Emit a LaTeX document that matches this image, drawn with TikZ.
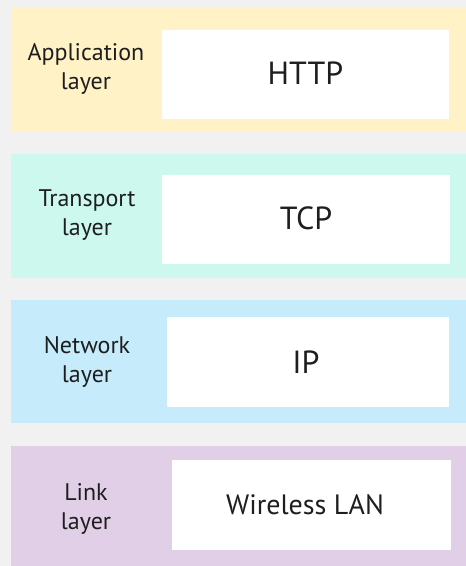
\documentclass[tikz,border=0pt]{standalone}
\usepackage{fontspec}
\setmainfont{PT Sans}
\definecolor{bg}{HTML}{F1F1F1}
\definecolor{appc}{HTML}{FFF2C6}
\definecolor{trac}{HTML}{CCF8EE}
\definecolor{netc}{HTML}{C6ECFB}
\definecolor{linkc}{HTML}{E1CFE7}
\definecolor{txt}{HTML}{1E1E1E}
\begin{document}
\begin{tikzpicture}[x=1pt,y=-1pt,
  proto/.style={fill=white,draw=none,inner sep=0pt,text=txt,font=\fontsize{32}{34}\selectfont},
  lbl/.style={align=center,text=txt,inner sep=0pt,font=\fontsize{24}{29}\selectfont}]
\fill[bg] (0,0) rectangle (466,566);
\useasboundingbox (0,0) rectangle (466,566);
% bands
\fill[appc] (11,8) rectangle (466,131);
\fill[trac] (11,154) rectangle (466,278);
\fill[netc] (11,300) rectangle (466,423);
\fill[linkc] (11,446) rectangle (466,566);
% white boxes
\node[proto,minimum width=287pt,minimum height=89pt] (http) at (305.5,74.5) {\raisebox{3pt}{HTTP}};
\node[proto,minimum width=288pt,minimum height=89pt] (tcp) at (306,219.5) {\raisebox{2pt}{TCP}};
\node[proto,minimum width=282pt,minimum height=90pt] (ip) at (308,362) {\hspace*{-4pt}IP};
\node[proto,minimum width=279pt,minimum height=90pt,font=\fontsize{28}{30}\selectfont] (wlan) at (311.5,505) {\hspace*{-13pt}Wireless LAN};
% labels
\node[lbl] (appl) at (86,69) {Application\\layer};
\node[lbl] (tral) at (87,215) {Transport\\layer};
\node[lbl] (netl) at (87,362) {Network\\layer};
\node[lbl] (linkl) at (86,509) {Link\\layer};
\end{tikzpicture}
\end{document}
